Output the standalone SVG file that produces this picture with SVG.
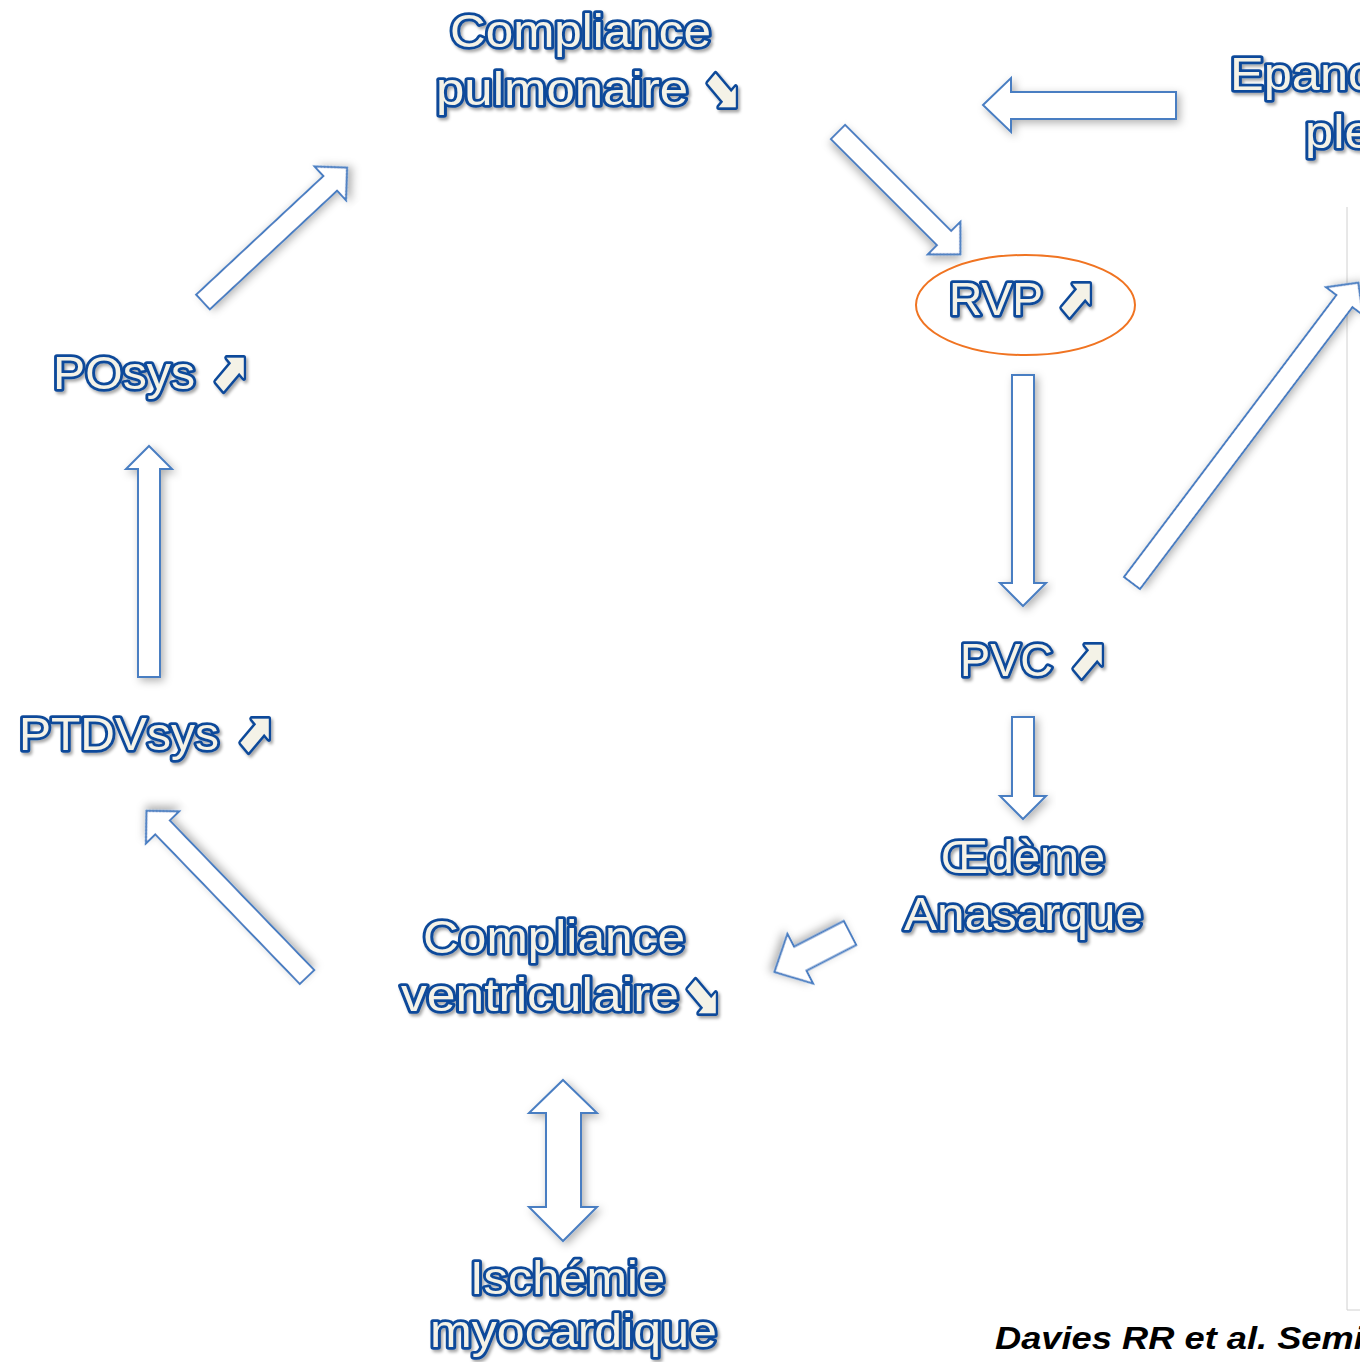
<svg xmlns="http://www.w3.org/2000/svg" width="1360" height="1362" viewBox="0 0 1360 1362">
  <defs>
    <filter id="txtShadow" x="-10%" y="-20%" width="130%" height="150%">
      <feDropShadow dx="2" dy="2.5" stdDeviation="1.5" flood-color="#000" flood-opacity="0.35"/>
    </filter>
    <filter id="arrShadow" x="-20%" y="-20%" width="140%" height="140%">
      <feDropShadow dx="3" dy="3" stdDeviation="4" flood-color="#000" flood-opacity="0.3"/>
    </filter>
  </defs>
  <style>
    .lbl { font-family: "Liberation Sans", "DejaVu Sans", Arial, sans-serif; font-size: 46px; fill: #f4f2e7; stroke: #0d4a9a; stroke-width: 5.5; stroke-linejoin: round; paint-order: stroke fill; filter: url(#txtShadow); }
    .sym { font-family: "DejaVu Sans", sans-serif; font-weight: bold; font-size: 54px; }
    .arr { fill: #ffffff; stroke: #4a7ec2; stroke-width: 2; stroke-linejoin: miter; filter: url(#arrShadow); }
    .ref { font-family: "Liberation Sans", Arial, sans-serif; font-size: 32px; font-weight: bold; font-style: italic; fill: #000; }
  </style>
  <rect width="1360" height="1362" fill="#ffffff"/>

  <!-- side frame edge -->
  <path d="M1347 207 V1310 H1360" fill="none" stroke="#d0d0d0" stroke-width="1"/>

  <g id="connectors">
    <!-- Epanchement -> Compliance pulmonaire -->
    <polygon class="arr" points="983,105 1011,78 1011,92 1176,92 1176,119 1011,119 1011,132"/>
    <!-- Compliance pulmonaire -> RVP -->
    <polygon class="arr" transform="translate(838,132) rotate(45)" points="0,-10 150,-10 150,-23 173,0 150,23 150,10 0,10"/>
    <!-- RVP -> PVC -->
    <polygon class="arr" points="1012,375 1034,375 1034,583 1046,583 1023,606 1000,583 1012,583"/>
    <!-- PVC -> Epanchement -->
    <polygon class="arr" transform="translate(1132,583) rotate(-53)" points="0,-10 353,-10 353,-23 376,0 353,23 353,10 0,10"/>
    <!-- PVC -> Oedeme -->
    <polygon class="arr" points="1012,717 1034,717 1034,796 1046,796 1023,819 1000,796 1012,796"/>
    <!-- Oedeme -> Compliance ventriculaire -->
    <polygon class="arr" transform="translate(850,933) rotate(152.7)" points="0,-13.5 56,-13.5 56,-28 85,0 56,28 56,13.5 0,13.5"/>
    <!-- Compliance ventriculaire -> PTDVsys -->
    <polygon class="arr" transform="translate(307,977) rotate(226)" points="0,-10 208,-10 208,-23 231,0 208,23 208,10 0,10"/>
    <!-- PTDVsys -> POsys -->
    <polygon class="arr" points="138,677 160,677 160,469 172,469 149,446 126,469 138,469"/>
    <!-- POsys -> Compliance pulmonaire -->
    <polygon class="arr" transform="translate(203,302) rotate(-43)" points="0,-10 174,-10 174,-23 197,0 174,23 174,10 0,10"/>
    <!-- Compliance ventriculaire <-> Ischemie -->
    <polygon class="arr" points="563,1080 597,1113 581,1113 581,1207 597,1207 563,1241 529,1207 546,1207 546,1113 529,1113"/>
  </g>

  <g id="node-compliance-pulmonaire">
    <text class="lbl" x="450" y="47" textLength="261" lengthAdjust="spacingAndGlyphs">Compliance</text>
    <text class="lbl" x="436" y="105" textLength="252" lengthAdjust="spacingAndGlyphs">pulmonaire</text>
    <text class="lbl sym" x="702" y="106" textLength="38" lengthAdjust="spacingAndGlyphs">⬊</text>
  </g>

  <g id="node-epanchement">
    <text class="lbl" x="1230" y="90" textLength="312" lengthAdjust="spacingAndGlyphs">Epanchement</text>
    <text class="lbl" x="1305" y="148" textLength="152" lengthAdjust="spacingAndGlyphs">pleural</text>
  </g>

  <g id="node-rvp">
    <ellipse cx="1025.5" cy="305" rx="109.5" ry="50" fill="none" stroke="#f07422" stroke-width="2"/>
    <text class="lbl" x="949" y="315" textLength="94" lengthAdjust="spacingAndGlyphs">RVP</text>
    <text class="lbl sym" x="1056" y="316" textLength="38" lengthAdjust="spacingAndGlyphs">⬈</text>
  </g>

  <g id="node-posys">
    <text class="lbl" x="53" y="389" textLength="142" lengthAdjust="spacingAndGlyphs">POsys</text>
    <text class="lbl sym" x="210" y="390" textLength="38" lengthAdjust="spacingAndGlyphs">⬈</text>
  </g>

  <g id="node-ptdvsys">
    <text class="lbl" x="19" y="750" textLength="200" lengthAdjust="spacingAndGlyphs">PTDVsys</text>
    <text class="lbl sym" x="235" y="751" textLength="38" lengthAdjust="spacingAndGlyphs">⬈</text>
  </g>

  <g id="node-pvc">
    <text class="lbl" x="960" y="676" textLength="93" lengthAdjust="spacingAndGlyphs">PVC</text>
    <text class="lbl sym" x="1068" y="677" textLength="38" lengthAdjust="spacingAndGlyphs">⬈</text>
  </g>

  <g id="node-oedeme">
    <text class="lbl" x="941" y="873" textLength="164" lengthAdjust="spacingAndGlyphs">Œdème</text>
    <text class="lbl" x="904" y="930" textLength="239" lengthAdjust="spacingAndGlyphs">Anasarque</text>
  </g>

  <g id="node-compliance-ventriculaire">
    <text class="lbl" x="423" y="953" textLength="262" lengthAdjust="spacingAndGlyphs">Compliance</text>
    <text class="lbl" x="401" y="1011" textLength="278" lengthAdjust="spacingAndGlyphs">ventriculaire</text>
    <text class="lbl sym" x="682" y="1012" textLength="38" lengthAdjust="spacingAndGlyphs">⬊</text>
  </g>

  <g id="node-ischemie">
    <text class="lbl" x="470" y="1294" textLength="195" lengthAdjust="spacingAndGlyphs">Ischémie</text>
    <text class="lbl" x="430" y="1347" textLength="287" lengthAdjust="spacingAndGlyphs">myocardique</text>
  </g>

  <text class="ref" x="995" y="1349" textLength="391" lengthAdjust="spacingAndGlyphs">Davies RR et al. Semin</text>
</svg>
